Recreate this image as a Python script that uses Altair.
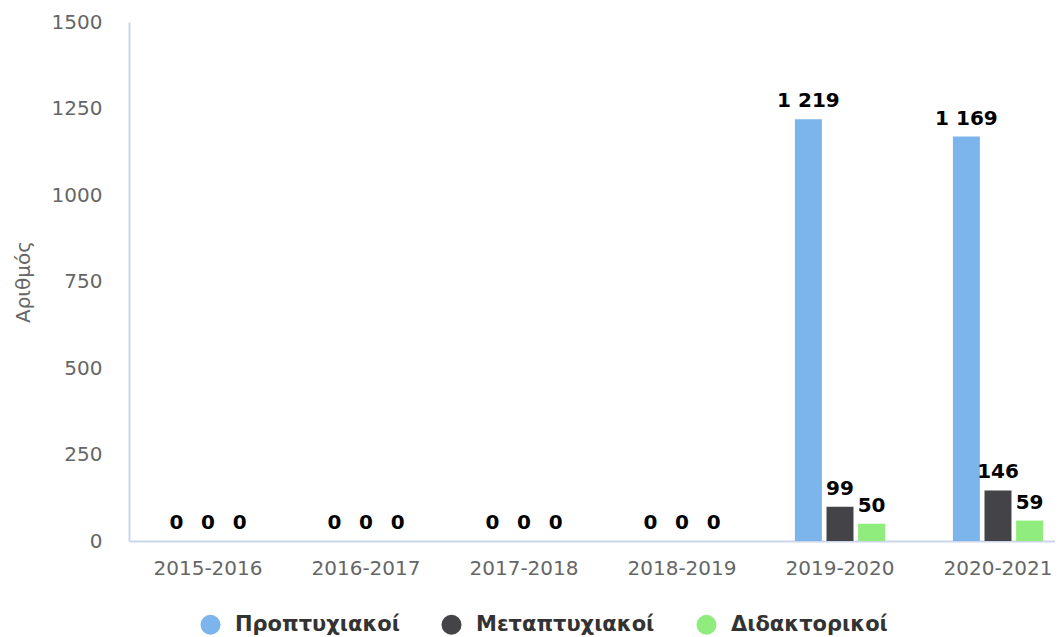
import altair as alt
import pandas as pd

years = ["2015-2016", "2016-2017", "2017-2018", "2018-2019", "2019-2020", "2020-2021"]
series = ["Προπτυχιακοί", "Μεταπτυχιακοί", "Διδακτορικοί"]
undergrad = [0, 0, 0, 0, 1219, 1169]
postgrad = [0, 0, 0, 0, 99, 146]
doctoral = [0, 0, 0, 0, 50, 59]
colors = ["#7cb5ec", "#434348", "#90ed7d"]
y_ticks = [0, 250, 500, 750, 1000, 1250, 1500]

rows = []
for name, vals in zip(series, [undergrad, postgrad, doctoral]):
    for yr, v in zip(years, vals):
        rows.append({"year": yr, "series": name, "value": v})
df = pd.DataFrame(rows)

FONT = "DejaVu Sans"
AXIS_COLOR = "#ccd6eb"
LABEL_COLOR = "#666666"

base = alt.Chart(df).encode(
    x=alt.X(
        "year:N",
        sort=years,
        scale=alt.Scale(range=[0, 948], paddingInner=0, paddingOuter=0),
        axis=alt.Axis(
            title=None, labelAngle=0, ticks=False, tickSize=0,
            domainColor=AXIS_COLOR, domainWidth=2,
            labelColor=LABEL_COLOR, labelFontSize=20, labelFont=FONT,
            labelPadding=17,
        ),
    ),
    xOffset=alt.XOffset(
        "series:N", sort=series,
        scale=alt.Scale(domain=series, range=[33.9, 124.1],
                        paddingInner=0.146, paddingOuter=0),
    ),
    y=alt.Y(
        "value:Q",
        scale=alt.Scale(domain=[0, 1500], nice=False),
        axis=alt.Axis(
            values=y_ticks, format="d", grid=False, ticks=False, tickSize=0,
            domainColor=AXIS_COLOR, domainWidth=2,
            labelColor=LABEL_COLOR, labelFontSize=20, labelFont=FONT,
            labelPadding=27,
            title="Αριθμός", titleColor=LABEL_COLOR, titleFontSize=20,
            titleFont=FONT, titleFontWeight="normal", titlePadding=18,
        ),
    ),
)

bars = base.mark_bar().encode(
    color=alt.Color(
        "series:N",
        sort=series,
        scale=alt.Scale(domain=series, range=colors),
        legend=alt.Legend(
            title=None, orient="none", legendX=71, legendY=592,
            direction="horizontal", columns=3,
            symbolType="circle", symbolSize=400, symbolStrokeWidth=0,
            labelFontSize=21, labelFont=FONT, labelFontWeight="bold",
            labelColor="#333333", labelOffset=14, columnPadding=41,
            labelLimit=400,
        ),
    )
)

labels = base.transform_calculate(
    label="replace(format(datum.value, ','), ',', ' ')"
).mark_text(
    fontWeight="bold", fontSize=20, font=FONT, color="#000000",
    dy=-12, baseline="alphabetic",
).encode(text="label:N")

chart = (
    alt.layer(bars, labels)
    .properties(
        width=926, height=519,
        autosize=alt.AutoSizeParams(type="none"),
        padding={"left": 121, "top": 14, "right": 0, "bottom": 94},
    )
    .configure_view(stroke=None)
)

chart.save("out.html", embed_options={"renderer": "svg", "actions": False})
